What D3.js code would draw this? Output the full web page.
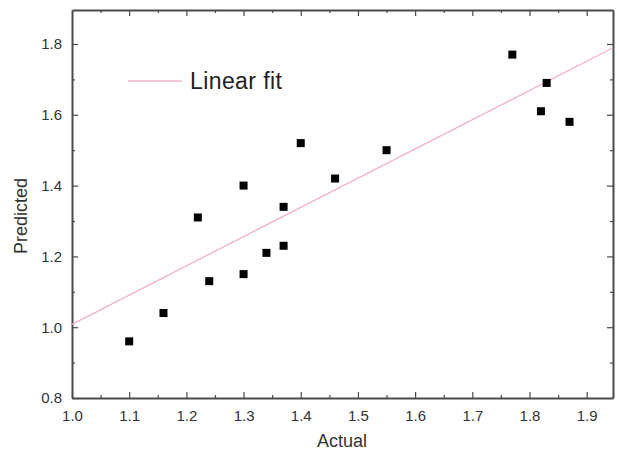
<!DOCTYPE html>
<html>
<head>
<meta charset="utf-8">
<script src="https://cdn.jsdelivr.net/npm/d3@7"></script>
<style>
  body { margin: 0; background: #fff; }
  svg { display: block; font-family: Arial, "Liberation Sans", sans-serif; }
</style>
</head>
<body>
<div id="chart"></div>
<script>
// values
const actual    = [1.10, 1.16, 1.22, 1.24, 1.30, 1.30, 1.34, 1.37, 1.37, 1.40, 1.46, 1.55, 1.77, 1.83, 1.82, 1.87];
const predicted = [0.96, 1.04, 1.31, 1.13, 1.40, 1.15, 1.21, 1.34, 1.23, 1.52, 1.42, 1.50, 1.77, 1.69, 1.61, 1.58];
const xTicks = [1.0, 1.1, 1.2, 1.3, 1.4, 1.5, 1.6, 1.7, 1.8, 1.9];
const yTicks = [0.8, 1.0, 1.2, 1.4, 1.6, 1.8];
const xDomain = [1.0, 1.946];
const yDomain = [0.8, 1.896];
// linear fit line (intercept, slope)
const fitIntercept = 0.182;
const fitSlope = 0.826;
const legendLabel = "Linear fit";

const width = 617, height = 452;
const margin = { top: 10, right: 4, bottom: 54, left: 72 };

const svg = d3.select("#chart").append("svg")
    .attr("width", width)
    .attr("height", height);

const x = d3.scaleLinear().domain(xDomain).range([margin.left, width - margin.right]);
const y = d3.scaleLinear().domain(yDomain).range([height - margin.bottom, margin.top]);

const axisColor = "#4a4a4a";
const textColor = "#333";

// minor tick positions (midpoints)
const xMinor = xTicks.map(t => t + 0.05).filter(t => t < xDomain[1]);
const yMinor = yTicks.map(t => t + 0.1).filter(t => t < yDomain[1]);

// bottom axis: ticks pointing inward
const axBottom = svg.append("g")
    .attr("transform", `translate(0,${y.range()[0]})`)
    .call(d3.axisBottom(x).tickValues(xTicks).tickSizeInner(-6).tickSizeOuter(0)
        .tickPadding(12).tickFormat(d3.format(".1f")));
axBottom.append("g")
    .call(d3.axisBottom(x).tickValues(xMinor).tickSize(-3).tickFormat(""))
    .select(".domain").remove();

const axLeft = svg.append("g")
    .attr("transform", `translate(${x.range()[0]},0)`)
    .call(d3.axisLeft(y).tickValues(yTicks).tickSizeInner(-6).tickSizeOuter(0)
        .tickPadding(10).tickFormat(d3.format(".1f")));
axLeft.append("g")
    .call(d3.axisLeft(y).tickValues(yMinor).tickSize(-3).tickFormat(""))
    .select(".domain").remove();

const axTop = svg.append("g")
    .attr("transform", `translate(0,${y.range()[1]})`)
    .call(d3.axisTop(x).tickValues(xTicks.filter(t => t > 1.0)).tickSizeInner(-6).tickSizeOuter(0).tickFormat(""));
axTop.append("g")
    .call(d3.axisTop(x).tickValues(xMinor).tickSize(-3).tickFormat(""))
    .select(".domain").remove();

const axRight = svg.append("g")
    .attr("transform", `translate(${x.range()[1]},0)`)
    .call(d3.axisRight(y).tickValues(yTicks.filter(t => t > 0.8)).tickSizeInner(-6).tickSizeOuter(0).tickFormat(""));
axRight.append("g")
    .call(d3.axisRight(y).tickValues(yMinor).tickSize(-3).tickFormat(""))
    .select(".domain").remove();

svg.selectAll(".domain").attr("stroke", axisColor).attr("stroke-width", 2);
svg.selectAll(".tick line").attr("stroke", axisColor).attr("stroke-width", 1.2);
svg.selectAll(".tick text").attr("fill", textColor).style("font-size", "15px");

// fit line
svg.append("line")
    .attr("x1", x(xDomain[0])).attr("y1", y(fitIntercept + fitSlope * xDomain[0]))
    .attr("x2", x(xDomain[1])).attr("y2", y(fitIntercept + fitSlope * xDomain[1]))
    .attr("stroke", "#f2b3c0")
    .attr("stroke-width", 1.3);

// data points
const pts = actual.map((a, i) => ({ a: a, p: predicted[i] }));
const sq = 8;
svg.append("g").selectAll("rect")
    .data(pts)
    .enter()
    .append("rect")
    .attr("x", d => x(d.a) - sq / 2)
    .attr("y", d => y(d.p) - sq / 2)
    .attr("width", sq)
    .attr("height", sq)
    .attr("fill", "#000");

// legend
svg.append("line")
    .attr("x1", 128).attr("x2", 182)
    .attr("y1", 81).attr("y2", 81)
    .attr("stroke", "#f2b3c0")
    .attr("stroke-width", 1.3);
svg.append("text")
    .attr("x", 190).attr("y", 89)
    .attr("fill", "#222")
    .style("font-size", "23px")
    .style("letter-spacing", "0.4px")
    .text(legendLabel);

// axis titles
svg.append("text")
    .attr("x", 342)
    .attr("y", 447)
    .attr("text-anchor", "middle")
    .attr("fill", textColor)
    .style("font-size", "18px")
    .text("Actual");

svg.append("text")
    .attr("transform", "translate(27,216) rotate(-90)")
    .attr("text-anchor", "middle")
    .attr("fill", textColor)
    .style("font-size", "18px")
    .text("Predicted");
</script>
</body>
</html>
